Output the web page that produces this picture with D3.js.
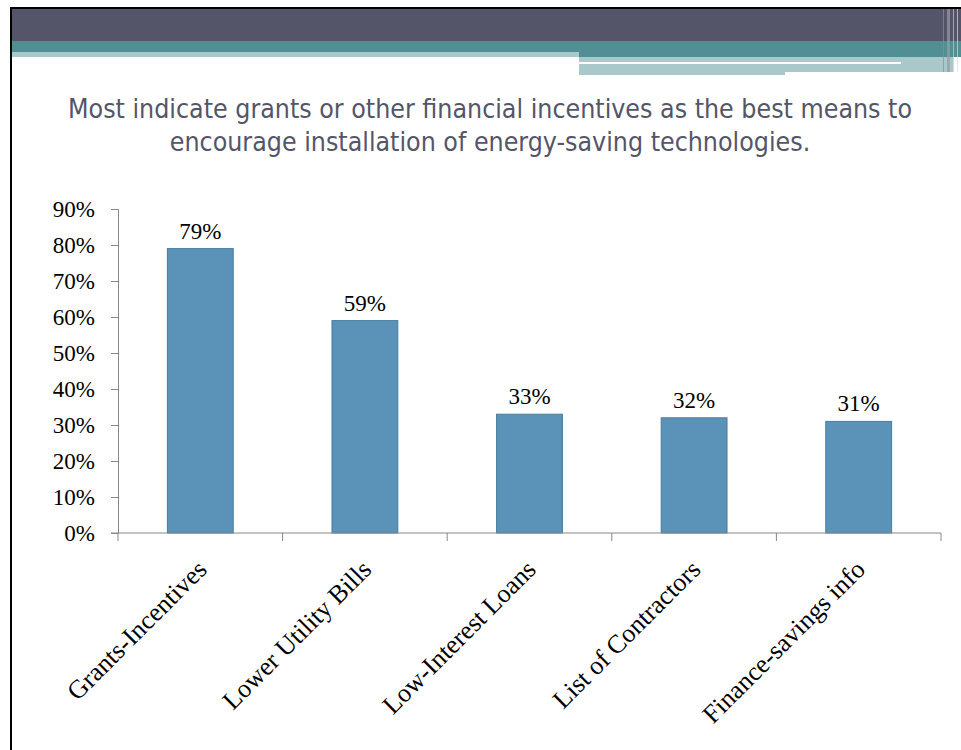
<!DOCTYPE html>
<html><head><meta charset="utf-8">
<script src="https://cdn.jsdelivr.net/npm/d3@7"></script>
<style>body{margin:0;background:#fff;} svg{display:block;}</style>
</head><body>
<script>
const categories = ["Grants-Incentives","Lower Utility Bills","Low-Interest Loans","List of Contractors","Finance-savings info"];
const values = [79, 59, 33, 32, 31];
const yTicks = [0,10,20,30,40,50,60,70,80,90];
const titleLines = ["Most indicate grants or other financial incentives as the best means to","encourage installation of energy-saving technologies."];

const W = 961, H = 750;
const svg = d3.select("body").append("svg").attr("width", W).attr("height", H);

// slide decoration
svg.append("rect").attr("x",0).attr("y",0).attr("width",W).attr("height",H).attr("fill","#fff");
svg.append("rect").attr("x",12).attr("y",9).attr("width",W-12).attr("height",32).attr("fill","#545568");
svg.append("rect").attr("x",12).attr("y",41).attr("width",W-12).attr("height",11).attr("fill","#528f94");
svg.append("rect").attr("x",579).attr("y",52).attr("width",W-579).attr("height",5).attr("fill","#528f94");
svg.append("rect").attr("x",12).attr("y",52).attr("width",567).attr("height",5).attr("fill","#a8c8c9");
svg.append("rect").attr("x",579).attr("y",57).attr("width",374).attr("height",5).attr("fill","#a8c8c9");
svg.append("rect").attr("x",579).attr("y",64).attr("width",206).attr("height",11).attr("fill","#a8c8c9");
svg.append("rect").attr("x",785).attr("y",64).attr("width",168).attr("height",8).attr("fill","#a8c8c9");
svg.append("rect").attr("x",901).attr("y",62).attr("width",52).attr("height",2).attr("fill","#a8c8c9");
// right edge stripes
[[943,1,"#8a8b9a"],[947,3,"#9a9aa8"],[953,1,"#c8c8d0"],[957,1,"#d8d8de"]].forEach(s=>{
  svg.append("rect").attr("x",s[0]).attr("y",9).attr("width",s[1]).attr("height",63).attr("fill",s[2]).attr("opacity",0.7);
});
// frame lines
svg.append("rect").attr("x",10).attr("y",7).attr("width",W-10).attr("height",2).attr("fill","#000");
svg.append("rect").attr("x",10).attr("y",7).attr("width",2).attr("height",H-7).attr("fill","#000");

// title
svg.append("g").selectAll("text").data(titleLines).join("text")
  .attr("x",490).attr("y",(d,i)=>118+i*33)
  .attr("text-anchor","middle")
  .attr("font-family","'DejaVu Sans Condensed','DejaVu Sans',sans-serif")
  .attr("font-stretch","condensed")
  .attr("font-size",26.5)
  .attr("fill","#545568")
  .text(d=>d);

// chart
const x0 = 118, x1 = 941, y0 = 533, yTop = 209;
const x = d3.scaleBand().domain(categories).range([x0,x1]).paddingInner(0.6).paddingOuter(0.3);
const xb = d3.scaleBand().domain(categories).range([x0,x1]).padding(0);
const y = d3.scaleLinear().domain([0,90]).range([y0,yTop]);

const serif = "'Liberation Serif','Times New Roman',serif";

// bars
svg.append("g").selectAll("rect").data(values).join("rect")
  .attr("x",(d,i)=>x(categories[i]))
  .attr("y",d=>y(d))
  .attr("width",x.bandwidth())
  .attr("height",d=>y0-y(d))
  .attr("fill","#5b93b8")
  .attr("stroke","#4a7c9e")
  .attr("stroke-width",1);

// y axis
const yAxis = d3.axisLeft(y).tickValues(yTicks).tickFormat(d=>d+"%").tickSize(7).tickPadding(16);
const gy = svg.append("g").attr("transform",`translate(${x0},0)`).call(yAxis);
gy.select(".domain").attr("stroke","#888");
gy.selectAll(".tick line").attr("stroke","#888");
gy.selectAll(".tick text").attr("font-family",serif).attr("font-size",23).attr("fill","#000");

// x axis
svg.append("line").attr("x1",x0-7).attr("x2",x1).attr("y1",y0).attr("y2",y0).attr("stroke","#888");
const bounds = categories.map(c=>xb(c)).concat([x1]);
svg.append("g").selectAll("line").data(bounds).join("line")
  .attr("x1",d=>d).attr("x2",d=>d).attr("y1",y0).attr("y2",y0+8).attr("stroke","#888");

// value labels
svg.append("g").selectAll("text").data(values).join("text")
  .attr("x",(d,i)=>x(categories[i])+x.bandwidth()/2)
  .attr("y",d=>y(d)-10)
  .attr("text-anchor","middle")
  .attr("font-family",serif).attr("font-size",23).attr("fill","#000")
  .text(d=>d+"%");

// category labels
svg.append("g").selectAll("text").data(categories).join("text")
  .attr("transform",c=>`translate(${xb(c)+xb.bandwidth()/2+8},${y0+38}) rotate(-45)`)
  .attr("text-anchor","end")
  .attr("font-family",serif).attr("font-size",26).attr("fill","#000")
  .text(d=>d);
</script>
</body></html>
